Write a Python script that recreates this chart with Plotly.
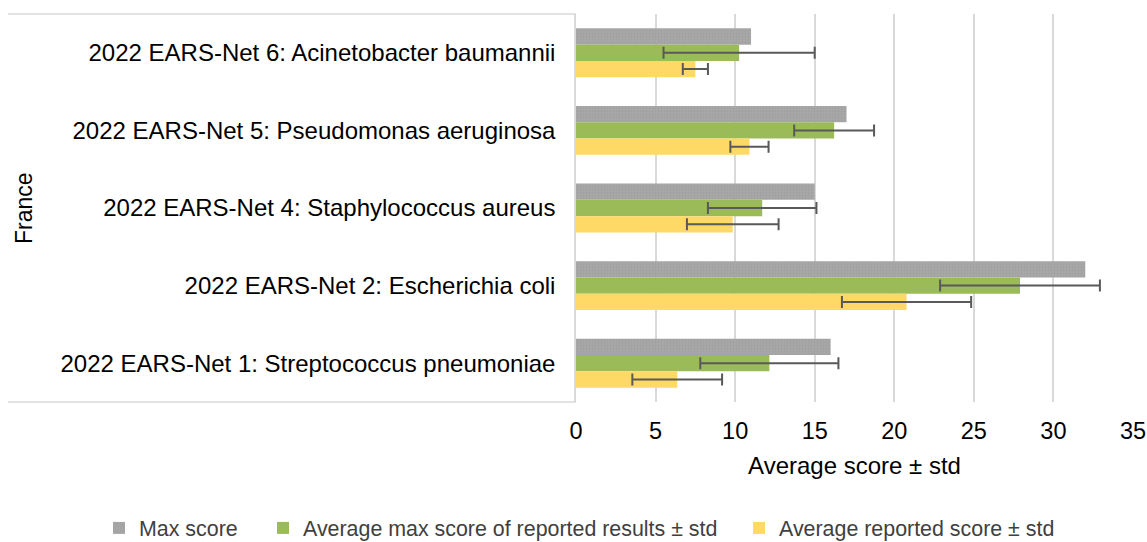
import plotly.graph_objects as go

categories = [
    "2022 EARS-Net 6: Acinetobacter baumannii",
    "2022 EARS-Net 5: Pseudomonas aeruginosa",
    "2022 EARS-Net 4: Staphylococcus aureus",
    "2022 EARS-Net 2: Escherichia coli",
    "2022 EARS-Net 1: Streptococcus pneumoniae",
]
max_score = [11, 17, 15, 32, 16]
avg_max_score = [10.25, 16.22, 11.7, 27.9, 12.15]
avg_max_std = [4.75, 2.51, 3.41, 5.02, 4.34]
avg_reported = [7.5, 10.9, 9.85, 20.77, 6.36]
avg_reported_std = [0.79, 1.2, 2.88, 4.06, 2.82]
x_ticks = [0, 5, 10, 15, 20, 25, 30, 35]

FONT = "Liberation Sans, Arial, sans-serif"
W, H = 1147, 542
L, R, T, B = 576, 14, 14, 140
PW = W - L - R
PH = H - T - B


def px_x(p):
    return (p - L) / PW


def px_y(p):
    return (H - B - p) / PH


err_style = dict(type="data", color="#595959", thickness=2, width=6)

fig = go.Figure()
fig.add_trace(go.Bar(
    y=categories, x=max_score, orientation="h", name="Max score",
    marker=dict(color="#A5A5A5", line=dict(width=0),
                pattern=dict(shape=".", fgcolor="#959595", bgcolor="#A8A8A8",
                             size=3, solidity=0.35)),
    legend="legend", showlegend=True,
))
fig.add_trace(go.Bar(
    y=categories, x=avg_max_score, orientation="h",
    name="Average max score of reported results ± std",
    marker=dict(color="#9BBB59", line=dict(width=0)),
    error_x=dict(array=avg_max_std, **err_style),
    legend="legend2", showlegend=True,
))
fig.add_trace(go.Bar(
    y=categories, x=avg_reported, orientation="h",
    name="Average reported score ± std",
    marker=dict(color="#FFD966", line=dict(width=0)),
    error_x=dict(array=avg_reported_std, **err_style),
    legend="legend3", showlegend=True,
))

legend_common = dict(orientation="h", yanchor="middle", y=px_y(528), xanchor="left",
                     font=dict(family=FONT, size=21.4, color="#404040"),
                     bgcolor="rgba(0,0,0,0)", itemclick=False, itemdoubleclick=False)

fig.update_layout(
    width=W, height=H,
    margin=dict(l=L, r=R, t=T, b=B, autoexpand=False),
    paper_bgcolor="white", plot_bgcolor="white",
    showlegend=True,
    barmode="group", bargap=0.37, bargroupgap=0,
    font=dict(family=FONT, size=23.5, color="#000000"),
    legend=dict(x=px_x(99), **legend_common),
    legend2=dict(x=px_x(263), **legend_common),
    legend3=dict(x=px_x(739), **legend_common),
    xaxis=dict(
        range=[0, 35], tickvals=x_ticks, showgrid=True, gridcolor="#D9D9D9",
        gridwidth=1.5, zeroline=False, showline=False, ticks="",
        ticklabelstandoff=12,
        tickfont=dict(family=FONT, size=23.5, color="#000000"),
        title=dict(text="Average score ± std", standoff=14,
                   font=dict(family=FONT, size=24, color="#000000")),
        fixedrange=True,
    ),
    yaxis=dict(
        autorange="reversed", showline=True, linecolor="#D9D9D9", linewidth=1.5,
        ticks="", ticklabelstandoff=14, showgrid=False,
        tickfont=dict(family=FONT, size=24, color="#000000"),
        fixedrange=True,
    ),
    shapes=[
        dict(type="line", xref="paper", yref="paper", x0=px_x(8), x1=0,
             y0=1, y1=1, line=dict(color="#D9D9D9", width=1.5)),
        dict(type="line", xref="paper", yref="paper", x0=px_x(8), x1=0,
             y0=0, y1=0, line=dict(color="#D9D9D9", width=1.5)),
    ],
    annotations=[
        dict(text="France", xref="paper", yref="paper", x=px_x(24), y=px_y(208),
             textangle=-90, showarrow=False, xanchor="center", yanchor="middle",
             font=dict(family=FONT, size=23, color="#000000")),
    ],
)

fig.write_html(
    "out.html",
    config={"displayModeBar": False},
    post_script="document.body.style.margin='0';document.body.style.padding='0';",
)
